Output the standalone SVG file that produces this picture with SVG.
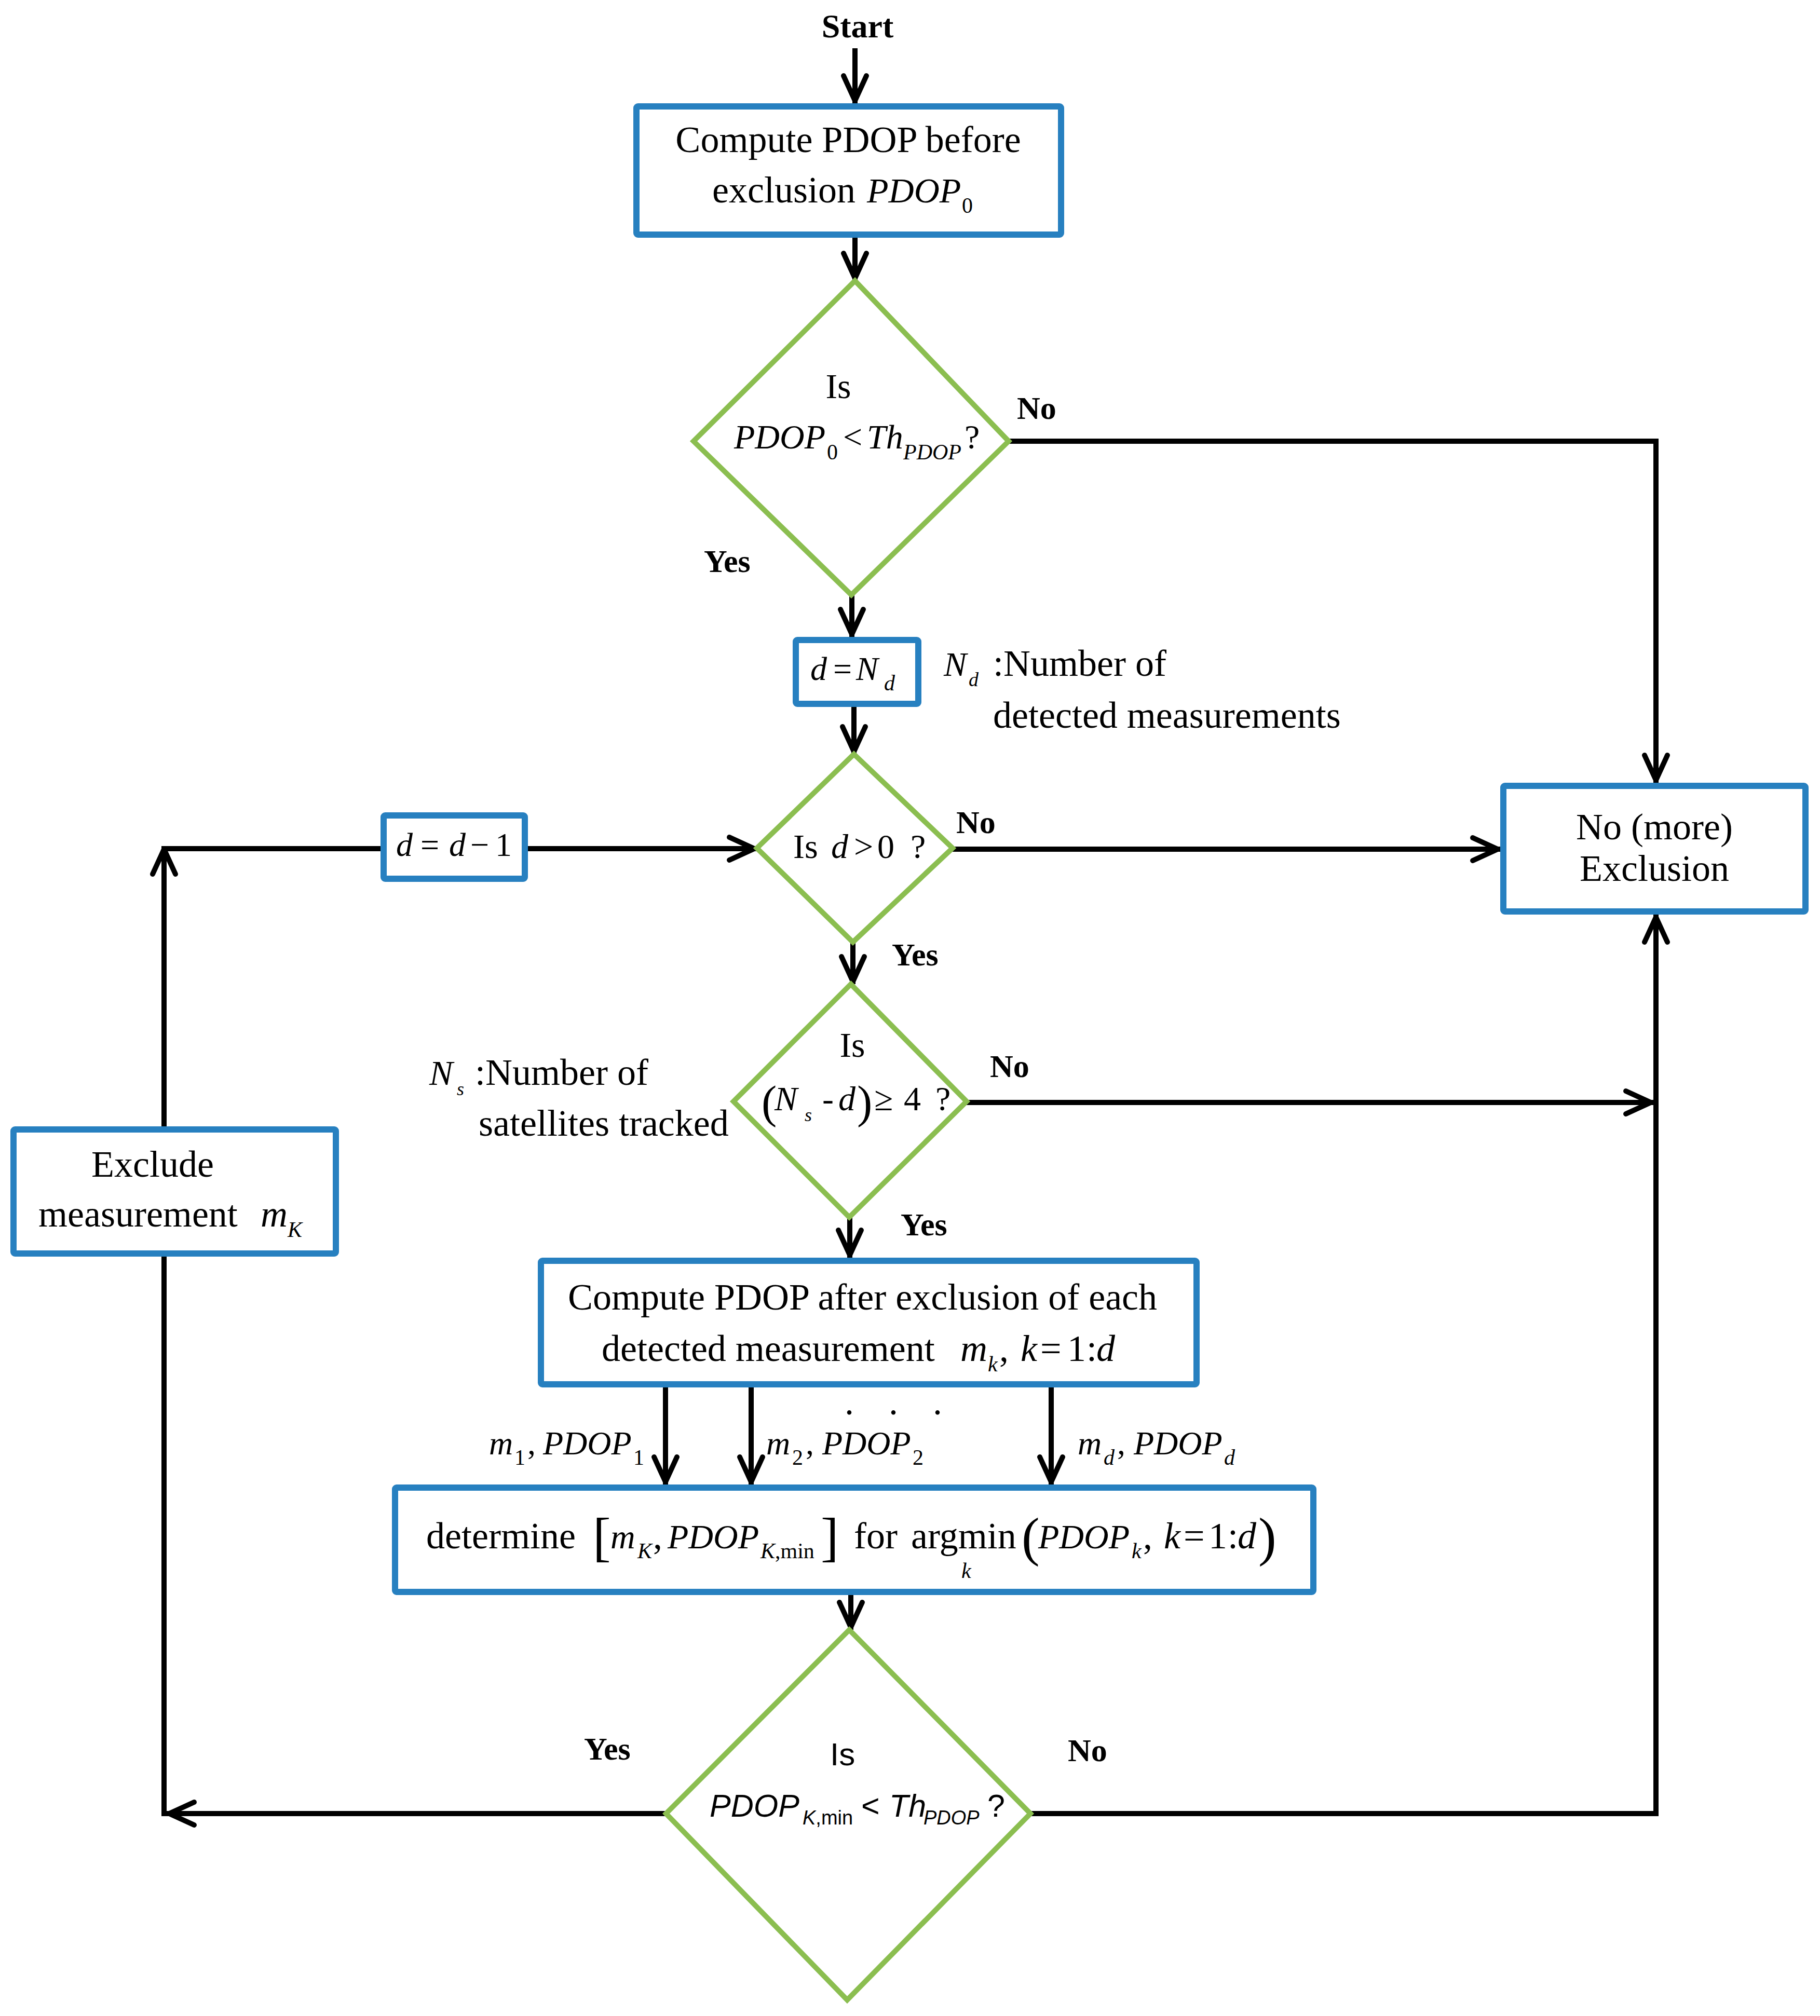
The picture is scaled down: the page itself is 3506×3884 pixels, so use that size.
<svg xmlns="http://www.w3.org/2000/svg" width="3506" height="3884" viewBox="0 0 3506 3884">
<defs>
<style>
.t{font-family:"Liberation Serif","Times New Roman",serif;font-size:72px;fill:#000}
.i{font-style:italic}
.n{font-style:normal}
.b{font-weight:bold;font-size:62px}
.sub{font-size:42px}
.sf{font-family:"Liberation Sans",Arial,sans-serif}
.box{fill:#fff;stroke:#2780C0;stroke-width:12}
.dia{fill:#fff;stroke:#8BBE50;stroke-width:10;stroke-linejoin:miter}
.c{fill:none;stroke:#000;stroke-width:10}
.ca{fill:none;stroke:#000;stroke-width:10;marker-end:url(#ah)}
</style>
<marker id="ah" markerUnits="userSpaceOnUse" viewBox="-60 -30 70 60" refX="5" refY="0" markerWidth="70" markerHeight="60" orient="auto" overflow="visible"><path d="M-48,-22 L0,0 L-48,22" fill="none" stroke="#000" stroke-width="10" stroke-linecap="round" stroke-linejoin="round"/></marker>
</defs>
<rect x="0" y="0" width="3506" height="3884" fill="#fff"/>
<g id="connectors">
<path class="ca" d="M1647,93 V199"/>
<path class="ca" d="M1647,458 V541"/>
<path class="ca" d="M1943,850 H3190 V1508"/>
<path class="ca" d="M1641,1146 V1227"/>
<path class="ca" d="M1645,1362 V1453"/>
<path class="ca" d="M1835,1636 H2890"/>
<path class="ca" d="M1643,1815 V1896"/>
<path class="ca" d="M1862,2124 H3185"/>
<path class="ca" d="M1637,2345 V2423"/>
<path class="ca" d="M1282,2673 V2860"/>
<path class="ca" d="M1447,2673 V2860"/>
<path class="ca" d="M2025,2673 V2860"/>
<path class="ca" d="M1639,3073 V3140"/>
<path class="ca" d="M1985,3494 H3190 V1762"/>
<path class="ca" d="M1283,3494 H321"/>
<path class="ca" d="M316,3499 V1631"/>
<path class="c" d="M311,1635 H733"/>
<path class="ca" d="M1017,1635 H1458"/>
</g>
<g id="start">
<text class="t b" x="1652" y="72" text-anchor="middle" style="font-size:64px">Start</text>
</g>
<g id="box-pdop0">
<rect class="box" x="1226" y="205" width="818" height="247" rx="3"/>
<text class="t" x="1634" y="293" text-anchor="middle">Compute PDOP before</text>
<text class="t"><tspan x="1372" y="390">exclusion</tspan><tspan class="i" x="1670" y="390" style="font-size:68px">PDOP</tspan><tspan class="sub" x="1853" y="410">0</tspan></text>
</g>
<g id="dec-pdop0">
<polygon class="dia" points="1647,541 1943,850 1640,1146 1336,850"/>
<text class="t" x="1615" y="767" text-anchor="middle" style="font-size:68px">Is</text>
<text class="t i" style="font-size:66px"><tspan x="1414" y="864">PDOP</tspan><tspan class="sub n" x="1593" y="885">0</tspan><tspan class="n" x="1624" y="864">&lt;</tspan><tspan x="1670" y="864">Th</tspan><tspan class="sub" x="1740" y="885">PDOP</tspan><tspan class="n" x="1858" y="864">?</tspan></text>
<text class="t b" x="1356" y="1102">Yes</text>
<text class="t b" x="1959" y="807">No</text>
</g>
<g id="box-d-nd">
<rect class="box" x="1533" y="1233" width="236" height="123" rx="3"/>
<text class="t i" style="font-size:64px"><tspan x="1561" y="1310">d</tspan><tspan class="n" x="1605" y="1310">=</tspan><tspan x="1649" y="1310">N</tspan><tspan class="sub" x="1703" y="1330">d</tspan></text>
</g>
<g id="note-nd">
<text class="t"><tspan class="i" x="1818" y="1302" style="font-size:66px">N</tspan><tspan class="i sub" x="1866" y="1322" style="font-size:38px">d</tspan><tspan x="1913" y="1302">:Number of</tspan></text>
<text class="t" x="1913" y="1402">detected measurements</text>
</g>
<g id="box-d-dec">
<rect class="box" x="739" y="1571" width="272" height="122" rx="3"/>
<text class="t i" style="font-size:64px"><tspan x="763" y="1649">d</tspan><tspan class="n" x="810" y="1649">=</tspan><tspan x="865" y="1649">d</tspan><tspan class="n" x="906" y="1649">−</tspan><tspan class="n" x="954" y="1649">1</tspan></text>
</g>
<g id="dec-d">
<polygon class="dia" points="1645,1453 1835,1634 1643,1815 1458,1634"/>
<text class="t" style="font-size:66px"><tspan x="1528" y="1653">Is</tspan><tspan class="i" x="1601" y="1653">d</tspan><tspan x="1645" y="1653">&gt;</tspan><tspan x="1690" y="1653">0</tspan><tspan x="1754" y="1653">?</tspan></text>
<text class="t b" x="1842" y="1605">No</text>
<text class="t b" x="1718" y="1860">Yes</text>
</g>
<g id="box-noexcl">
<rect class="box" x="2896" y="1514" width="582" height="242" rx="3"/>
<text class="t" x="3187" y="1617" text-anchor="middle">No (more)</text>
<text class="t" x="3187" y="1697" text-anchor="middle">Exclusion</text>
</g>
<g id="dec-ns">
<polygon class="dia" points="1639,1896 1862,2122 1636,2345 1413,2122"/>
<text class="t" x="1642" y="2036" text-anchor="middle" style="font-size:68px">Is</text>
<text class="t" style="font-size:66px"><tspan x="1467" y="2153" style="font-size:88px">(</tspan><tspan class="i" x="1492" y="2139">N</tspan><tspan class="i sub" x="1550" y="2160" style="font-size:36px">s</tspan><tspan x="1584" y="2139">-</tspan><tspan class="i" x="1615" y="2139">d</tspan><tspan x="1651" y="2153" style="font-size:88px">)</tspan><tspan x="1684" y="2139">≥</tspan><tspan x="1741" y="2139">4</tspan><tspan x="1802" y="2139">?</tspan></text>
<text class="t b" x="1907" y="2075">No</text>
<text class="t b" x="1735" y="2380">Yes</text>
</g>
<g id="note-ns">
<text class="t"><tspan class="i" x="827" y="2090" style="font-size:68px">N</tspan><tspan class="i sub" x="880" y="2110" style="font-size:36px">s</tspan><tspan x="915" y="2090">:Number of</tspan></text>
<text class="t" x="922" y="2188">satellites tracked</text>
</g>
<g id="box-exclude">
<rect class="box" x="26" y="2176" width="621" height="239" rx="3"/>
<text class="t" x="176" y="2267">Exclude</text>
<text class="t"><tspan x="74" y="2363">measurement</tspan><tspan class="i" x="502" y="2363">m</tspan><tspan class="i sub" x="554" y="2383">K</tspan></text>
</g>
<g id="box-compute-after">
<rect class="box" x="1042" y="2429" width="1263" height="238" rx="3"/>
<text class="t" x="1094" y="2523">Compute PDOP after exclusion of each</text>
<text class="t"><tspan x="1159" y="2622">detected measurement</tspan><tspan class="i" x="1850" y="2622">m</tspan><tspan class="i sub" x="1903" y="2642">k</tspan><tspan x="1925" y="2622">,</tspan><tspan class="i" x="1966" y="2622">k</tspan><tspan x="2004" y="2622">=</tspan><tspan x="2056" y="2622">1</tspan><tspan x="2093" y="2622">:</tspan><tspan class="i" x="2112" y="2622">d</tspan></text>
</g>
<g id="edge-labels">
<text class="t" x="1627 1712 1797" y="2725">...</text>
<text class="t i" style="font-size:64px"><tspan x="942" y="2802">m</tspan><tspan class="sub n" x="991" y="2822">1</tspan><tspan class="n" x="1016" y="2802">,</tspan><tspan x="1046" y="2802">PDOP</tspan><tspan class="sub n" x="1220" y="2822">1</tspan></text>
<text class="t i" style="font-size:64px"><tspan x="1476" y="2802">m</tspan><tspan class="sub n" x="1526" y="2822">2</tspan><tspan class="n" x="1552" y="2802">,</tspan><tspan x="1584" y="2802">PDOP</tspan><tspan class="sub n" x="1758" y="2822">2</tspan></text>
<text class="t i" style="font-size:64px"><tspan x="2076" y="2802">m</tspan><tspan class="sub" x="2126" y="2822">d</tspan><tspan class="n" x="2152" y="2802">,</tspan><tspan x="2184" y="2802">PDOP</tspan><tspan class="sub" x="2358" y="2822">d</tspan></text>
</g>
<g id="box-determine">
<rect class="box" x="761" y="2866" width="1769" height="201" rx="3"/>
<text class="t"><tspan x="821" y="2983">determine</tspan><tspan x="1142" y="2996" style="font-size:104px">[</tspan><tspan class="i" x="1176" y="2983" style="font-size:66px">m</tspan><tspan class="i sub" x="1228" y="3002">K</tspan><tspan x="1258" y="2983">,</tspan><tspan class="i" x="1286" y="2983" style="font-size:66px">PDOP</tspan><tspan class="sub" x="1465" y="3002"><tspan class="i">K</tspan>,min</tspan><tspan x="1581" y="2996" style="font-size:104px">]</tspan><tspan x="1645" y="2983">for</tspan><tspan x="1755" y="2983">argmin</tspan><tspan class="i sub" x="1852" y="3040">k</tspan><tspan x="1968" y="2996" style="font-size:104px">(</tspan><tspan class="i" x="2000" y="2983" style="font-size:66px">PDOP</tspan><tspan class="i sub" x="2180" y="3002">k</tspan><tspan x="2202" y="2983">,</tspan><tspan class="i" x="2242" y="2983">k</tspan><tspan x="2280" y="2983">=</tspan><tspan x="2328" y="2983">1</tspan><tspan x="2365" y="2983">:</tspan><tspan class="i" x="2384" y="2983">d</tspan><tspan x="2424" y="2996" style="font-size:104px">)</tspan></text>
</g>
<g id="dec-pdopmin">
<polygon class="dia" points="1636,3140 1985,3494 1632,3853 1283,3494"/>
<text class="t sf" x="1599" y="3401" style="font-size:62px">Is</text>
<text class="t sf" style="font-size:61px"><tspan class="i" x="1367" y="3500">PDOP</tspan><tspan style="font-size:38px" x="1546" y="3515"><tspan class="i">K</tspan>,min</tspan><tspan x="1659" y="3500">&lt;</tspan><tspan class="i" x="1713" y="3500">Th</tspan><tspan class="i" style="font-size:38px" x="1779" y="3515">PDOP</tspan><tspan x="1902" y="3500">?</tspan></text>
<text class="t b" x="1125" y="3390">Yes</text>
<text class="t b" x="2057" y="3393">No</text>
</g>
</svg>
